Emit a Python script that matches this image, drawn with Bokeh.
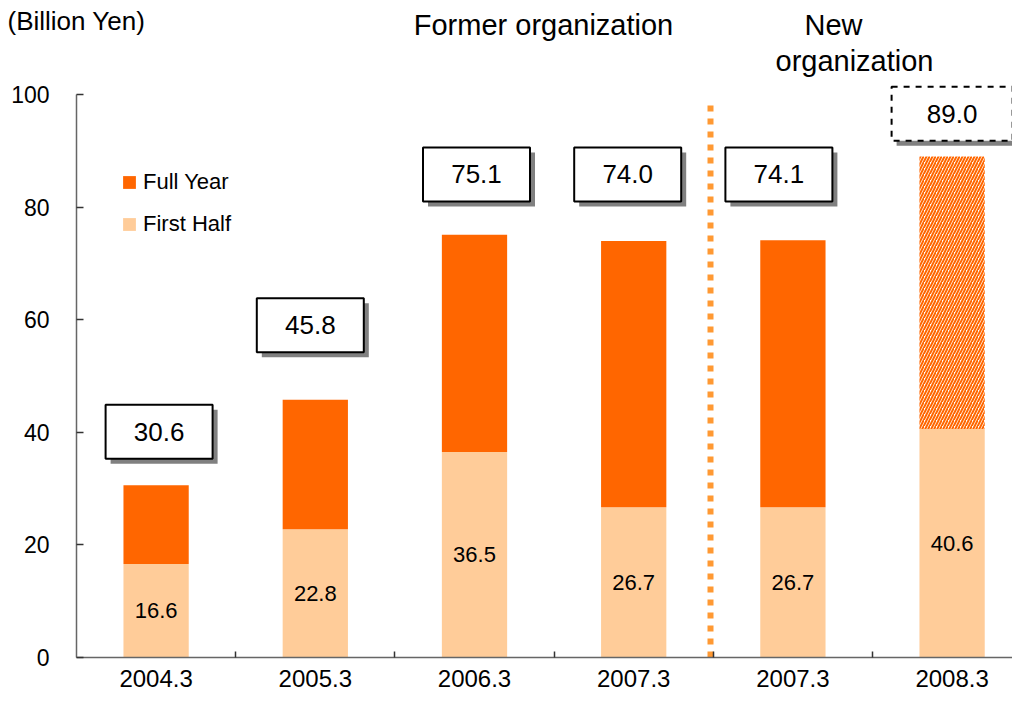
from bokeh.plotting import figure
from bokeh.models import (ColumnDataSource, Range1d, FixedTicker, Legend, LegendItem)
from bokeh.core.properties import value
from bokeh.embed import file_html
from bokeh.resources import INLINE

# ---- data ----
periods = ["2004.3", "2005.3", "2006.3", "2007.3", "2007.3", "2008.3"]
first_half = [16.6, 22.8, 36.5, 26.7, 26.7, 40.6]
full_year = [30.6, 45.8, 75.1, 74.0, 74.1, 89.0]
is_forecast = [False, False, False, False, False, True]
y_ticks = [0, 20, 40, 60, 80, 100]

# ---- layout constants (pixels) ----
W, H = 1012, 696
AX_X = 76        # y-axis position (px from left)
FB = 657         # y = 0 position (px from top)
XU = 159.2       # px per category
YU = 5.63        # px per billion yen
x_start = -0.5 - AX_X / XU
x_end = x_start + W / XU
y_start = -(H - FB) / YU
y_end = FB / YU
FONT = "Liberation Sans"
DARK = "#FF6600"
LIGHT = "#FFCC99"


def X(px):
    return (px - AX_X) / XU - 0.5


def Y(py):
    return (FB - py) / YU


box_y = [40.1, 59.0, 85.8, 85.8, 85.8, 96.6]     # label box centres (value units)
box_dx = [3, -5, 2, -6, -14, 0]                  # label box x nudges (px)

n = len(periods)
xs = list(range(n))
bx = [x + d / XU for x, d in zip(xs, box_dx)]
src = ColumnDataSource(dict(
    x=xs,
    fh=first_half,
    fy=full_year,
    fh_mid=[v / 2 for v in first_half],
    fh_txt=[f"{v:.1f}" for v in first_half],
    fy_txt=[f"{v:.1f}" for v in full_year],
    top_fill=["white" if f else DARK for f in is_forecast],
    top_hatch=["/" if f else " " for f in is_forecast],
    bx=bx,
    box_y=box_y,
    box_w=[121 if f else 107 for f in is_forecast],
    box_dash=["dashed" if f else "solid" for f in is_forecast],
    sh_x=[x + 5 / XU for x in bx],
    sh_y=[y - 5 / YU for y in box_y],
))

p = figure(width=W, height=H, output_backend="svg", toolbar_location=None,
           x_range=Range1d(x_start, x_end), y_range=Range1d(y_start, y_end),
           min_border_left=0, min_border_right=0, min_border_top=0, min_border_bottom=0)
p.outline_line_color = None
p.xgrid.visible = False
p.ygrid.visible = False
p.background_fill_color = "white"

# bars
r_bot = p.vbar(x="x", bottom=0, top="fh", width=0.41, source=src,
               fill_color=LIGHT, line_color=None)
r_top = p.vbar(x="x", bottom="fh", top="fy", width=0.41, source=src,
               fill_color="top_fill", line_color=None,
               hatch_pattern="top_hatch", hatch_color=DARK, hatch_scale=6, hatch_weight=2)

# first-half labels inside bars
p.text(x="x", y="fh_mid", text="fh_txt", source=src, text_align="center",
       text_baseline="middle", text_font=value(FONT), text_font_size="22px", text_color="black")

# total boxes with shadows
p.rect(x="sh_x", y="sh_y", width="box_w", height=54, width_units="screen", height_units="screen",
       source=src, fill_color="#808080", line_color=None)
p.rect(x="bx", y="box_y", width="box_w", height=54, width_units="screen", height_units="screen",
       source=src, fill_color="white", line_color="black", line_width=2, line_dash="box_dash")
p.text(x="bx", y="box_y", text="fy_txt", source=src, text_align="center",
       text_baseline="middle", text_font=value(FONT), text_font_size="26px", text_color="black")

# organization divider
div_x = X(710)
p.segment(x0=[div_x], y0=[0], x1=[div_x], y1=[Y(103)], line_color="#FF9933",
          line_width=6, line_dash="6 7", line_cap="butt")

# headings
p.text(x=[X(543)], y=[Y(24)], text=["Former organization"], text_align="center",
       text_baseline="middle", text_font=value(FONT), text_font_size="29px", text_color="black")
p.text(x=[X(833)], y=[Y(24)], text=["New"], text_align="center",
       text_baseline="middle", text_font=value(FONT), text_font_size="29px", text_color="black")
p.text(x=[X(854)], y=[Y(60)], text=["organization"], text_align="center",
       text_baseline="middle", text_font=value(FONT), text_font_size="29px", text_color="black")
p.text(x=[X(7)], y=[Y(20)], text=["(Billion Yen)"], text_align="left",
       text_baseline="middle", text_font=value(FONT), text_font_size="26px", text_color="black")

# axes
ya = p.yaxis[0]
ya.fixed_location = -0.5
ya.ticker = FixedTicker(ticks=y_ticks)
ya.bounds = (0, 100)
ya.axis_line_color = "#666666"
ya.axis_line_width = 1.5
ya.major_tick_in = 7
ya.major_tick_out = 0
ya.major_tick_line_color = "#333333"
ya.major_tick_line_width = 1.5
ya.minor_tick_line_color = None
ya.major_label_standoff = 27
ya.major_label_text_font = FONT
ya.major_label_text_font_size = "23px"
ya.major_label_text_color = "black"

xa = p.xaxis[0]
xa.fixed_location = 0
xa.bounds = (-0.5, x_end)
xa.ticker = FixedTicker(ticks=xs, minor_ticks=[i + 0.5 for i in range(n - 1)])
xa.major_label_overrides = {i: periods[i] for i in range(n)}
xa.axis_line_color = "#666666"
xa.axis_line_width = 1.5
xa.major_tick_in = 0
xa.major_tick_out = 0
xa.minor_tick_in = 6
xa.minor_tick_out = 0
xa.minor_tick_line_color = "#333333"
xa.minor_tick_line_width = 1.5
xa.major_label_standoff = 12
xa.major_label_text_font = FONT
xa.major_label_text_font_size = "24px"
xa.major_label_text_color = "black"

legend = Legend(items=[LegendItem(label="Full Year", renderers=[r_top], index=0),
                       LegendItem(label="First Half", renderers=[r_bot], index=0)],
                location=(121, 459), orientation="vertical",
                glyph_width=16, glyph_height=16, label_height=16, spacing=16,
                label_standoff=6, padding=0, margin=0,
                label_text_font=FONT, label_text_font_size="22px", label_text_color="black",
                border_line_color=None, background_fill_alpha=0)
p.add_layout(legend)

open("out.html", "w").write(file_html(p, INLINE))
